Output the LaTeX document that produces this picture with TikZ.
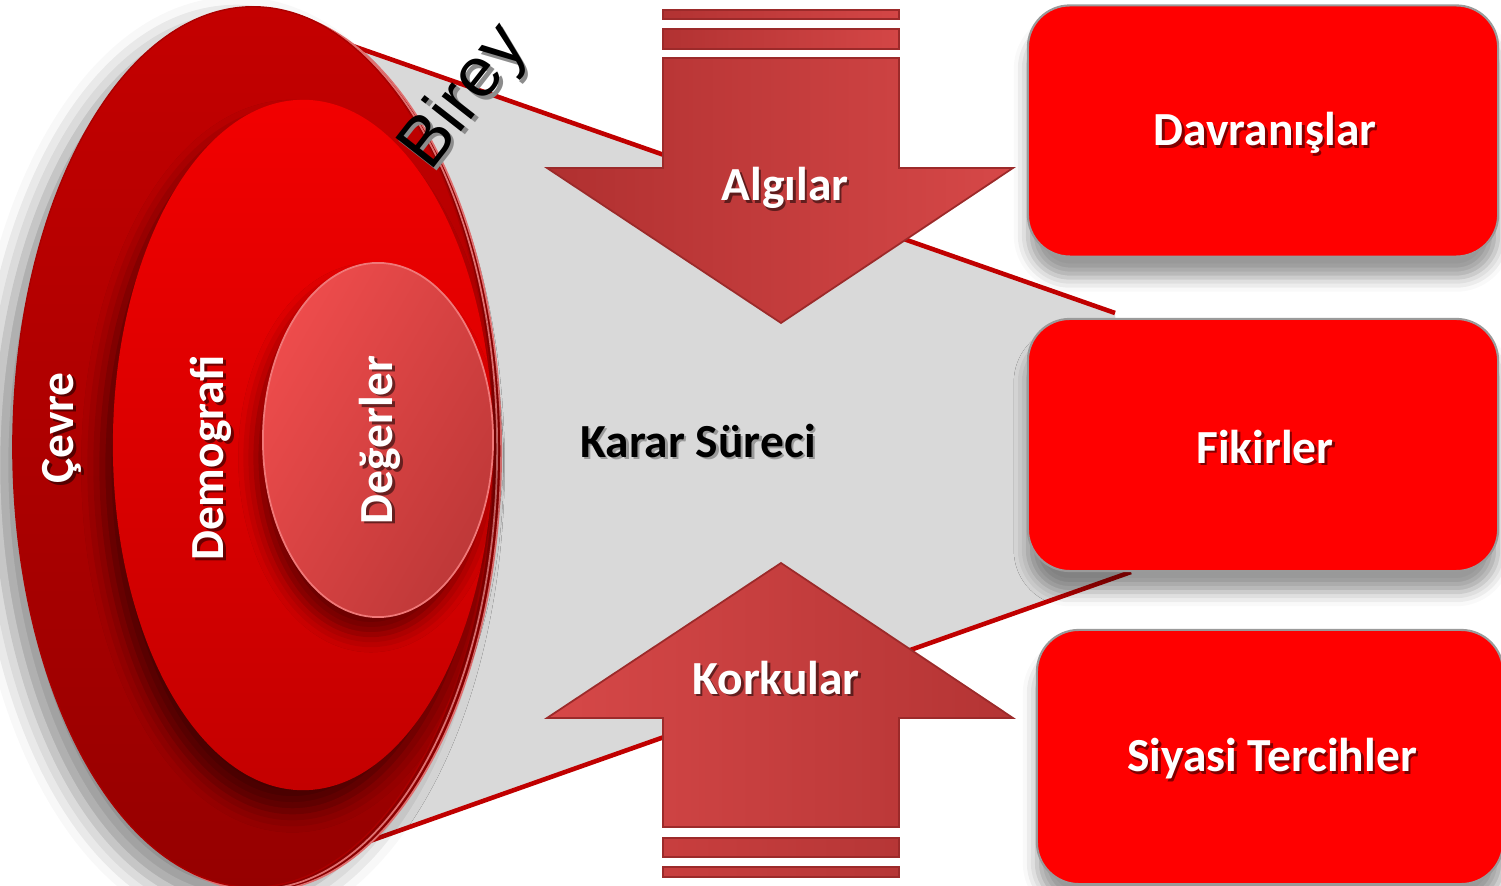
\documentclass[tikz,border=0pt]{standalone}
\usepackage{fontspec}
\setmainfont{Carlito}
\newfontfamily\bireyfont{Liberation Sans}
\usetikzlibrary{shapes.geometric,shadows.blur}
\definecolor{conegray}{HTML}{D9D9D9}
\definecolor{linered}{HTML}{C00000}
\definecolor{boxred}{HTML}{FF0000}
\definecolor{boxedge}{HTML}{9A9A9A}
\definecolor{arrowedge}{HTML}{9C2A2A}
\definecolor{ringpink}{HTML}{E07070}
\definecolor{discdark}{HTML}{8A0000}
\newcommand\shlabel[4]{%
  \node[lblsh,xshift=0.7pt,yshift=-0.7pt,#1] (#2-sh) at #3 {#4};
  \node[lbl,#1] (#2) at #3 {#4};}
\begin{document}
\begin{tikzpicture}[x=0.01cm,y=-0.01cm,
  lbl/.style={font=\bfseries\fontsize{13.5}{16}\selectfont,text=white,inner sep=0pt},
  lblsh/.style={font=\bfseries\fontsize{13.5}{16}\selectfont,text=black,opacity=0.5,inner sep=0pt},
  redbox/.style={draw=boxedge,line width=0.6pt,fill=boxred,rounded corners=0.42cm,inner sep=0pt,
    blur shadow={shadow xshift=0pt,shadow yshift=-6pt,shadow blur radius=4pt,shadow opacity=40}},
  conedge/.style={draw=linered,line width=1.3pt},
  arrowbody/.style={draw=arrowedge,line width=0.5pt},
  disc/.style={ellipse,inner sep=0pt}
]
\useasboundingbox (0,0) rectangle (1501,886);
% cone behind the disc
\coordinate (c1) at (350,45);
\coordinate (c2) at (1115,313);
\coordinate (c3) at (1131,572);
\coordinate (c4) at (350,848);
\fill[conegray] (c1) -- (c2) -- (c3) -- (c4) -- cycle;
\draw[conedge] (c1) -- (c2);
\draw[conedge] (c4) -- (c3);
% disc
\node[disc,minimum width=4.8cm,minimum height=8.8cm,fill=discdark,draw=ringpink,line width=0.5pt,
  blur shadow={shadow xshift=-7pt,shadow yshift=-4pt,shadow blur radius=8pt,shadow opacity=45}] (ring2) at (261,451) {};
\node[disc,minimum width=4.8cm,minimum height=8.8cm,fill=discdark,draw=ringpink,line width=0.5pt] (ring1) at (257,449) {};
\node[disc,minimum width=4.8cm,minimum height=8.8cm,top color={rgb,255:red,196;green,0;blue,0},bottom color={rgb,255:red,150;green,0;blue,0},draw={rgb,255:red,170;green,0;blue,0},line width=0.4pt] (cevre) at (253,447) {};
\node[disc,minimum width=3.8cm,minimum height=6.9cm,top color={rgb,255:red,242;green,0;blue,0},bottom color={rgb,255:red,196;green,0;blue,0},
  blur shadow={shadow xshift=-3pt,shadow yshift=-6pt,shadow blur radius=6pt,shadow opacity=55}] (demo) at (303,445) {};
\node[disc,minimum width=2.3cm,minimum height=3.54cm,left color={rgb,255:red,238;green,76;blue,76},right color={rgb,255:red,190;green,56;blue,56},shading angle=60,
  draw={rgb,255:red,240;green,120;blue,120},line width=0.5pt,
  blur shadow={shadow xshift=-2pt,shadow yshift=-5pt,shadow blur radius=5pt,shadow opacity=50}] (deger) at (378,440) {};
% top arrow (down)
\fill[arrowbody,left color={rgb,255:red,178;green,50;blue,50},right color={rgb,255:red,212;green,70;blue,70}] (663,10) rectangle (899,19);
\fill[arrowbody,left color={rgb,255:red,178;green,50;blue,50},right color={rgb,255:red,212;green,70;blue,70}] (663,29) rectangle (899,49);
\draw[arrowbody,left color={rgb,255:red,176;green,48;blue,48},right color={rgb,255:red,214;green,72;blue,72}]
  (663,58) -- (899,58) -- (899,168) -- (1013,168) -- (781,323) -- (547,168) -- (663,168) -- cycle;
% bottom arrow (up)
\draw[arrowbody,left color={rgb,255:red,214;green,72;blue,72},right color={rgb,255:red,180;green,52;blue,52}]
  (781,563) -- (1013,718) -- (899,718) -- (899,827) -- (663,827) -- (663,718) -- (547,718) -- cycle;
\fill[arrowbody,left color={rgb,255:red,200;green,62;blue,62},right color={rgb,255:red,182;green,54;blue,54}] (663,838) rectangle (899,857);
\fill[arrowbody,left color={rgb,255:red,200;green,62;blue,62},right color={rgb,255:red,182;green,54;blue,54}] (663,867) rectangle (899,877);
% right boxes
\node[redbox,minimum width=4.70cm,minimum height=2.51cm] (davr) at (1263,131) {};
\node[redbox,minimum width=4.70cm,minimum height=2.52cm] (fikir) at (1263,445) {};
\node[redbox,minimum width=4.66cm,minimum height=2.54cm] (siyasi) at (1270,757) {};
% labels
\shlabel{}{tdavr}{(1265,133)}{Davranışlar}
\shlabel{}{tfikir}{(1265,447)}{Fikirler}
\shlabel{}{tsiyasi}{(1272,759)}{Siyasi Tercihler}
\shlabel{}{talgi}{(785,188)}{Algılar}
\shlabel{}{tkork}{(776,678)}{Korkular}
\shlabel{rotate=90}{tcevre}{(62,428)}{Çevre}
\shlabel{rotate=90}{tdemo}{(211,458)}{Demografi}
\shlabel{rotate=90}{tdeger}{(380,440)}{Değerler}
\node[font=\bfseries\fontsize{13.5}{16}\selectfont,text=black!40,inner sep=0pt,xshift=0.7pt,yshift=-0.7pt] (karar-sh) at (698,441) {Karar Süreci};
\node[font=\bfseries\fontsize{13.5}{16}\selectfont,text=black,inner sep=0pt] (karar) at (698,441) {Karar Süreci};
\node[font=\bireyfont\fontsize{20}{24}\selectfont,text=black!45,inner sep=0pt,xshift=1pt,yshift=-1pt,rotate=52] (birey-sh) at (465,98) {Birey};
\node[font=\bireyfont\fontsize{20}{24}\selectfont,text=black,inner sep=0pt,rotate=52] (birey) at (465,98) {Birey};
\end{tikzpicture}
\end{document}
